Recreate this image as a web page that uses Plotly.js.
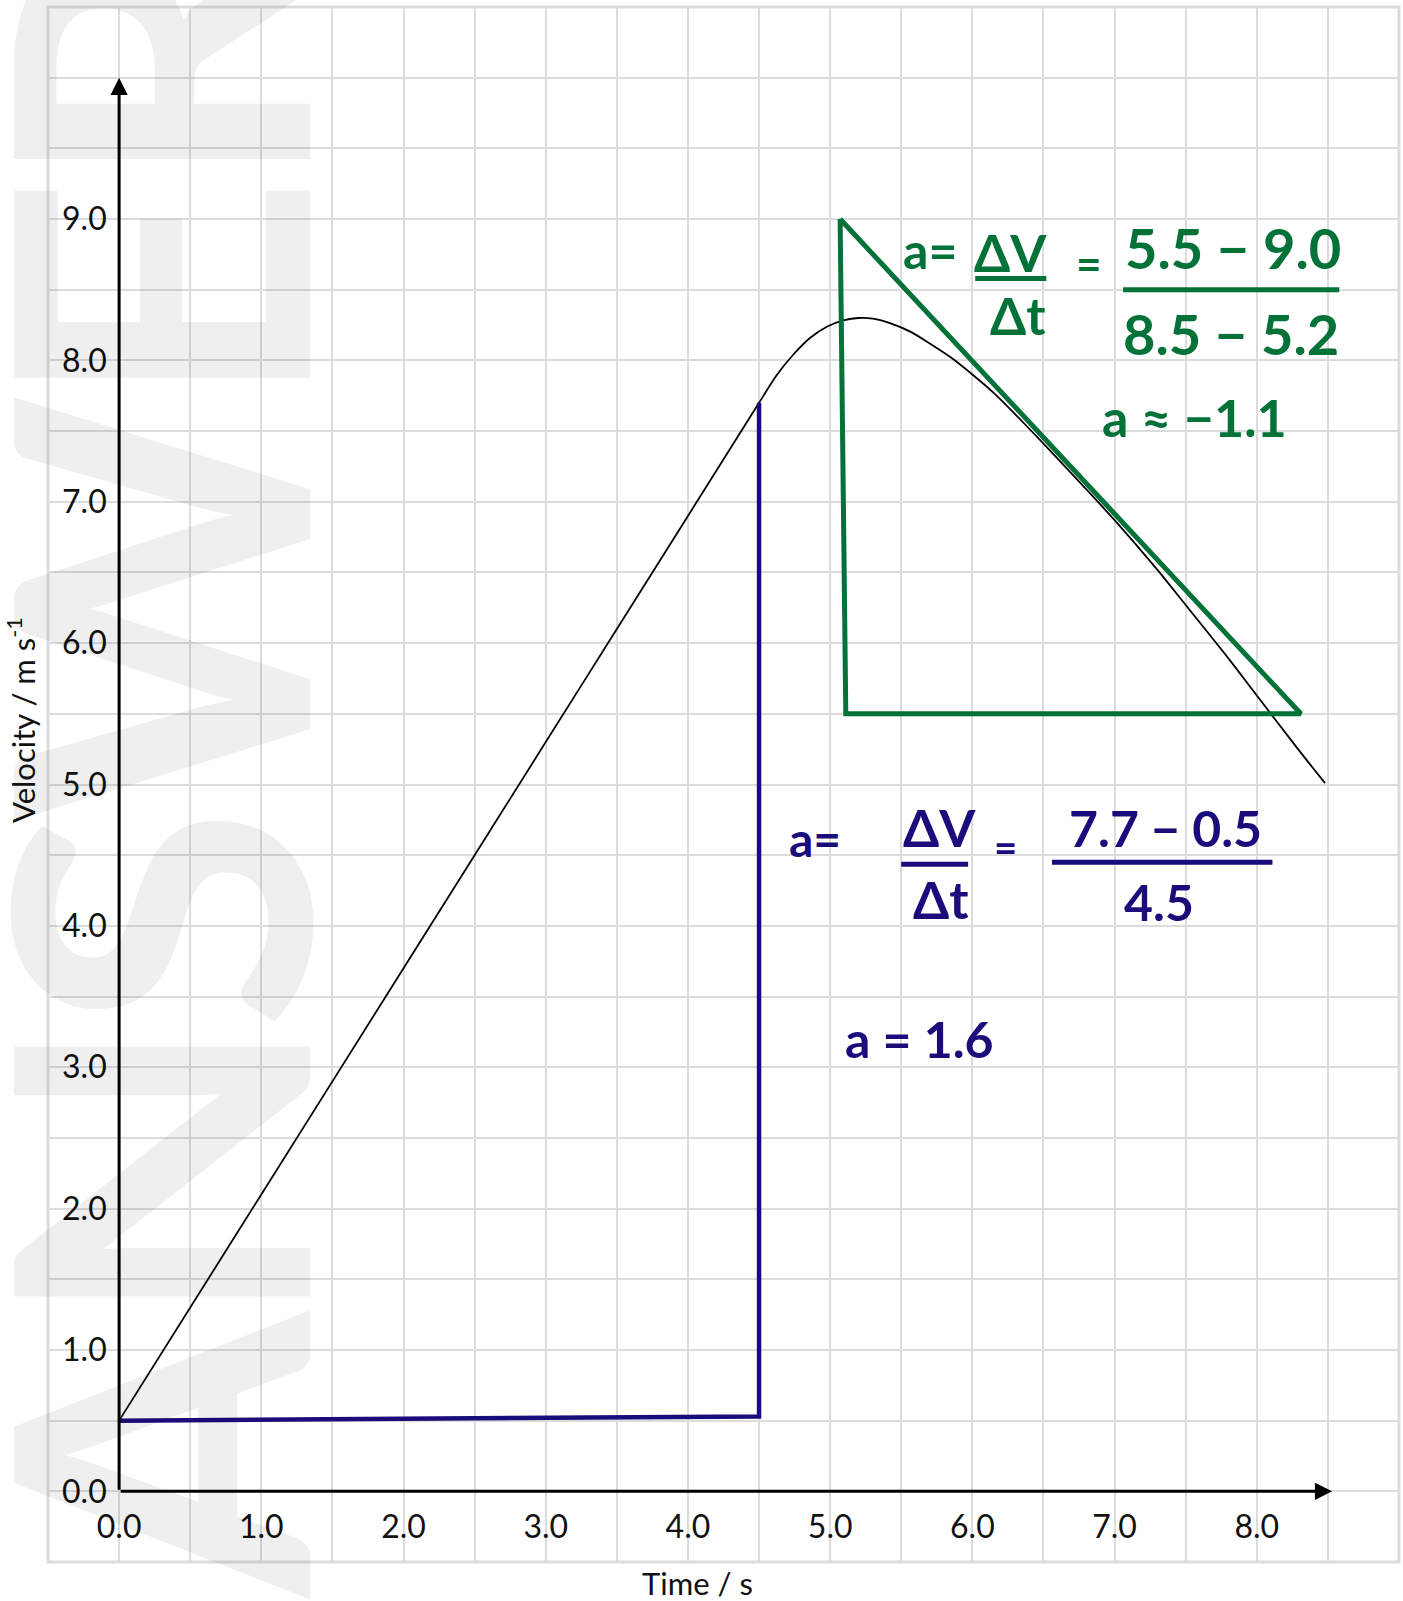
<!DOCTYPE html>
<html>
<head>
<meta charset="utf-8">
<script src="https://cdn.plot.ly/plotly-3.0.1.min.js"></script>
<style>
  html, body { margin: 0; padding: 0; background: #ffffff; }
  #chart { width: 1403px; height: 1601px; }
</style>
</head>
<body>
<div id="chart"></div>
<script>
// Velocity-time curve (t in s, v in m/s)
const timeS = [0, 1, 2, 3, 3.5, 4, 4.5, 4.62, 4.74, 4.86, 4.98, 5.1, 5.2, 5.3, 5.43, 5.57, 5.7, 5.85, 6.0, 6.15, 6.31, 6.52, 6.79, 7.0, 7.3, 7.5, 7.81, 8.0, 8.29, 8.48];
const velocity = [0.5, 2.1, 3.7, 5.3, 6.1, 6.9, 7.7, 7.89, 8.04, 8.16, 8.24, 8.285, 8.3, 8.295, 8.26, 8.2, 8.12, 8.02, 7.9, 7.77, 7.61, 7.39, 7.1, 6.87, 6.52, 6.27, 5.88, 5.63, 5.25, 5.01];

// Gradient triangle for the accelerating phase (two sides)
const riseT = [0, 4.5, 4.5];
const riseV = [0.5, 0.53, 7.7];

// Gradient triangle for the decelerating phase (tangent near t = 6.5 s)
const fallT = [5.07, 5.11, 8.31, 5.07];
const fallV = [9.0, 5.5, 5.5, 9.0];

// Axis ticks
const xTickVals = [0, 1, 2, 3, 4, 5, 6, 7, 8];
const xTickText = ['0.0', '1.0', '2.0', '3.0', '4.0', '5.0', '6.0', '7.0', '8.0'];
const yTickVals = [0, 1, 2, 3, 4, 5, 6, 7, 8, 9];
const yTickText = ['0.0', '1.0', '2.0', '3.0', '4.0', '5.0', '6.0', '7.0', '8.0', '9.0'];
const xHalfGrid = [0.5, 1.5, 2.5, 3.5, 4.5, 5.5, 6.5, 7.5, 8.5];
const yHalfGrid = [0.5, 1.5, 2.5, 3.5, 4.5, 5.5, 6.5, 7.5, 8.5, 9.5, 10.0];

const X_RANGE = [-0.5, 9.0];
const Y_RANGE = [-0.5, 10.5];

const GRID = '#dcdcdc';
const INK_BLUE = '#1b0c7c';
const INK_GREEN = '#037239';
const TICK_FONT = { family: 'Lato, "Noto Sans", sans-serif', size: 32, color: '#111111' };
const HAND_FONT = 'Lato, "Noto Sans", "DejaVu Sans", sans-serif';

const traces = [
  {
    x: timeS, y: velocity, type: 'scatter', mode: 'lines',
    line: { color: '#000000', width: 1.8, shape: 'spline', smoothing: 0.8 },
    hoverinfo: 'skip', showlegend: false
  },
  {
    x: riseT, y: riseV, type: 'scatter', mode: 'lines',
    line: { color: INK_BLUE, width: 4.5 },
    hoverinfo: 'skip', showlegend: false
  },
  {
    x: fallT, y: fallV, type: 'scatter', mode: 'lines',
    line: { color: INK_GREEN, width: 5 },
    hoverinfo: 'skip', showlegend: false
  }
];

// relative position of the origin inside the plotting area
const xZeroFrac = (0 - X_RANGE[0]) / (X_RANGE[1] - X_RANGE[0]);
const yZeroFrac = (0 - Y_RANGE[0]) / (Y_RANGE[1] - Y_RANGE[0]);

function note(text, x, y, color, size) {
  return {
    text: '<b>' + text + '</b>', x: x, y: y, xref: 'x', yref: 'y',
    showarrow: false, xanchor: 'center', yanchor: 'middle',
    font: { family: HAND_FONT, size: size, color: color }
  };
}

function bar(x0, x1, y, color) {
  return {
    type: 'line', xref: 'x', yref: 'y', x0: x0, x1: x1, y0: y, y1: y,
    line: { color: color, width: 5 }
  };
}

const annotations = [
  // watermark
  {
    text: '<b><span style="letter-spacing:-17px">ANSWER</span></b>', xref: 'paper', yref: 'paper', x: 0.0762, y: 0.514,
    xanchor: 'center', yanchor: 'middle', textangle: -90, showarrow: false,
    font: { family: 'Lato, "DejaVu Sans", sans-serif', size: 410, color: 'rgba(0,0,0,0.062)' }
  },
  // axis arrows
  {
    text: '', x: 0, y: 10, ax: 0, ay: 0, xref: 'x', yref: 'y', axref: 'x', ayref: 'y',
    showarrow: true, arrowhead: 2, arrowsize: 1.15, arrowwidth: 3, arrowcolor: '#000000', standoff: 0
  },
  {
    text: '', x: 8.53, y: 0, ax: 0, ay: 0, xref: 'x', yref: 'y', axref: 'x', ayref: 'y',
    showarrow: true, arrowhead: 2, arrowsize: 1.15, arrowwidth: 3, arrowcolor: '#000000', standoff: 0
  },
  // axis titles
  {
    text: 'Velocity / m s<sup>-1</sup>', xref: 'paper', yref: 'paper', x: -0.0192, y: 0.5415,
    xanchor: 'center', yanchor: 'middle', textangle: -90, showarrow: false,
    font: { family: 'Lato, "Noto Sans", sans-serif', size: 31, color: '#111111' }
  },
  {
    text: 'Time / s', xref: 'paper', yref: 'paper', x: 0.4804, y: -0.0135,
    xanchor: 'center', yanchor: 'middle', showarrow: false,
    font: { family: 'Lato, "Noto Sans", sans-serif', size: 31, color: '#111111' }
  },
  // worked gradient, decelerating phase
  note('a=', 5.70, 8.78, INK_GREEN, 50),
  note('ΔV', 6.27, 8.77, INK_GREEN, 52),
  note('Δt', 6.32, 8.32, INK_GREEN, 52),
  note('=', 6.82, 8.69, INK_GREEN, 44),
  note('5.5 − 9.0', 7.83, 8.80, INK_GREEN, 56),
  note('8.5 − 5.2', 7.82, 8.19, INK_GREEN, 56),
  note('a ≈ −1.1', 7.56, 7.60, INK_GREEN, 52),
  // worked gradient, accelerating phase
  note('a=', 4.89, 4.62, INK_BLUE, 48),
  note('ΔV', 5.77, 4.70, INK_BLUE, 52),
  note('Δt', 5.78, 4.19, INK_BLUE, 52),
  note('=', 6.23, 4.56, INK_BLUE, 40),
  note('7.7 − 0.5', 7.36, 4.69, INK_BLUE, 50),
  note('4.5', 7.31, 4.17, INK_BLUE, 50),
  note('a = 1.6', 5.63, 3.20, INK_BLUE, 50)
];

const shapes = [
  // outer frame of the grid
  { type: 'rect', xref: 'paper', yref: 'paper', x0: 0, x1: 1, y0: 0, y1: 1,
    line: { color: GRID, width: 3 }, layer: 'below' },
  // fraction bars
  bar(6.02, 6.52, 8.58, INK_GREEN),
  bar(7.06, 8.58, 8.50, INK_GREEN),
  bar(5.50, 5.97, 4.435, INK_BLUE),
  bar(6.56, 8.11, 4.45, INK_BLUE)
];

const layout = {
  width: 1403, height: 1601,
  margin: { l: 48, r: 4, t: 7, b: 39, pad: 0 },
  paper_bgcolor: '#ffffff', plot_bgcolor: '#ffffff',
  showlegend: false,
  xaxis: {
    range: X_RANGE, anchor: 'free', position: yZeroFrac,
    tickmode: 'array', tickvals: xTickVals, ticktext: xTickText,
    ticks: 'outside', ticklen: 7, tickcolor: 'rgba(0,0,0,0)',
    tickfont: TICK_FONT,
    showgrid: true, gridcolor: GRID, gridwidth: 2,
    minor: { tickmode: 'array', tickvals: xHalfGrid, showgrid: true, gridcolor: GRID, gridwidth: 2, ticks: '' },
    zeroline: false, showline: false, fixedrange: true
  },
  yaxis: {
    range: Y_RANGE, anchor: 'free', position: xZeroFrac,
    tickmode: 'array', tickvals: yTickVals, ticktext: yTickText,
    ticks: 'outside', ticklen: 6, tickcolor: 'rgba(0,0,0,0)',
    tickfont: TICK_FONT,
    showgrid: true, gridcolor: GRID, gridwidth: 2,
    minor: { tickmode: 'array', tickvals: yHalfGrid, showgrid: true, gridcolor: GRID, gridwidth: 2, ticks: '' },
    zeroline: false, showline: false, fixedrange: true
  },
  annotations: annotations,
  shapes: shapes
};

Plotly.newPlot('chart', traces, layout, { displayModeBar: false, staticPlot: true });
</script>
</body>
</html>
